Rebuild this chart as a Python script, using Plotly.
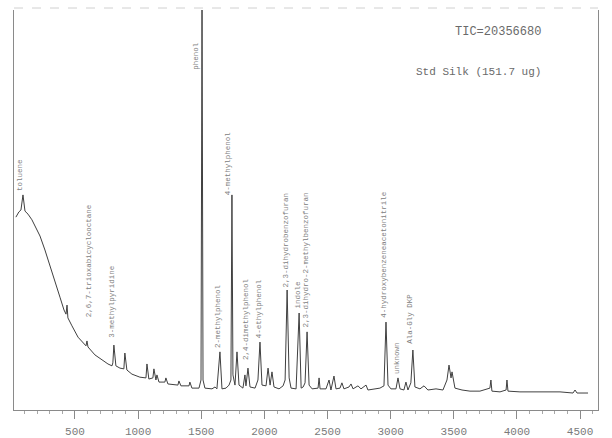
import plotly.graph_objects as go

# Scan number (x) and relative abundance (y) of the total-ion chromatogram
scan = [32, 56, 72, 88, 104, 128, 159, 191, 223, 262, 302, 341, 381, 413, 429, 437, 444, 476, 524,
        587, 595, 603, 658, 714, 761, 793, 800, 808, 824, 856, 887, 895, 911, 951, 1014, 1062, 1070,
        1085, 1117, 1125, 1141, 1149, 1165, 1212, 1220, 1236, 1315, 1323, 1339, 1403, 1410, 1426,
        1482, 1498, 1506, 1514, 1529, 1585, 1609, 1624, 1648, 1664, 1696, 1720, 1735, 1743, 1751,
        1767, 1783, 1799, 1830, 1846, 1854, 1870, 1886, 1926, 1949, 1965, 1981, 2013, 2029, 2045,
        2060, 2076, 2116, 2148, 2164, 2180, 2196, 2211, 2251, 2275, 2291, 2307, 2322, 2338, 2354,
        2378, 2425, 2433, 2441, 2488, 2512, 2527, 2551, 2567, 2599, 2614, 2630, 2670, 2686, 2702,
        2741, 2765, 2805, 2820, 2876, 2915, 2947, 2963, 2979, 3002, 3042, 3058, 3074, 3105, 3121,
        3137, 3160, 3176, 3192, 3232, 3264, 3295, 3359, 3414, 3446, 3462, 3478, 3486, 3509, 3565,
        3628, 3707, 3786, 3794, 3802, 3866, 3914, 3921, 3929, 4024, 4143, 4222, 4341, 4444, 4460,
        4476, 4563]
abundance = [46.1, 47.5, 48.0, 52.0, 47.7, 46.9, 45.4, 43.2, 41.1, 37.4, 33.4, 28.9, 24.9, 21.5, 20.4,
             22.8, 19.4, 17.3, 14.3, 12.0, 13.3, 11.7, 9.6, 8.3, 7.2, 6.7, 7.5, 12.2, 6.7, 6.1, 5.9,
             10.1, 5.6, 4.5, 3.7, 3.5, 7.2, 3.2, 3.5, 5.9, 2.95, 4.3, 2.4, 2.4, 3.5, 1.9, 1.6, 2.7,
             1.4, 1.4, 2.4, 0.8, 0.8, 2.95, 104.0, 2.95, 0.8, 0.6, 1.1, 0.6, 10.4, 0.6, 0.8, 1.6,
             2.95, 52.0, 4.3, 1.6, 10.4, 1.6, 0.8, 4.3, 1.4, 6.1, 1.1, 0.8, 2.95, 13.0, 1.6, 1.4,
             6.1, 1.6, 5.1, 1.1, 0.6, 1.4, 2.95, 26.8, 3.5, 0.8, 0.6, 20.7, 0.8, 1.1, 2.2, 15.7,
             1.6, 0.6, 0.8, 3.5, 0.6, 0.6, 2.95, 0.3, 4.0, 0.6, 0.8, 2.2, 0.6, 1.1, 1.9, 0.6, 1.4,
             0.6, 1.6, 0.3, 0.6, 0.8, 1.4, 18.3, 1.6, 0.6, 0.6, 3.5, 0.6, 0.3, 2.4, 0.3, 2.2, 10.9,
             1.1, 0.6, 1.4, 0.3, 0.6, 0.3, 2.95, 6.9, 3.5, 5.1, 0.8, 0.3, 0.0, 0.0, 0.8, 2.95, 0.0,
             -0.2, 0.3, 2.95, 0.0, -0.2, -0.2, -0.2, -0.2, -0.5, 0.3, -0.5, -0.5]

# Peak identifications: name, scan where the label sits, abundance at the label's foot
peak_names = ["toluene", "2,6,7-trioxabicyclooctane", "3-methylpyridine", "phenol",
              "4-methylphenol", "2-methylphenol", "2,4-dimethylphenol", "4-ethylphenol",
              "2,3-dihydrobenzofuran", "indole", "2,3-dihydro-2-methylbenzofuran",
              "4-hydroxybenzeneacetonitrile", "unknown", "Ala-Gly DKP"]
peak_label_scan = [64, 611, 793, 1458, 1712, 1633, 1854, 1957, 2164, 2266, 2322, 2947, 3050, 3152]
peak_label_y = [52.5, 18.9, 13.6, 84.6, 51.4, 10.9, 7.7, 13.6, 26.8, 21.5, 16.2, 18.9, 4.0, 12.0]

x_ticks = [500, 1000, 1500, 2000, 2500, 3000, 3500, 4000, 4500]

fig = go.Figure()
fig.add_trace(go.Scatter(x=scan, y=abundance, mode="lines",
                         line=dict(color="#404040", width=1), showlegend=False,
                         hoverinfo="x+y"))

for name, sx, sy in zip(peak_names, peak_label_scan, peak_label_y):
    fig.add_annotation(x=sx, y=sy, text=name, textangle=-90, showarrow=False,
                       xanchor="center", yanchor="bottom",
                       font=dict(family="Liberation Mono", size=7.5, color="#808080"))

fig.add_annotation(xref="paper", yref="paper", x=0.905, y=0.945, text="TIC=20356680",
                   showarrow=False, xanchor="right", yanchor="middle",
                   font=dict(family="Liberation Mono", size=12, color="#6a6a6a"))
fig.add_annotation(xref="paper", yref="paper", x=0.905, y=0.845, text="Std Silk (151.7 ug)",
                   showarrow=False, xanchor="right", yanchor="middle",
                   font=dict(family="Liberation Mono", size=11, color="#6a6a6a"))

fig.add_shape(type="line", xref="paper", yref="paper", x0=0, x1=1, y0=1.005, y1=1.005,
              line=dict(color="#d0d0d0", width=1, dash="dash"))

fig.update_layout(
    width=612, height=438,
    margin=dict(l=14, r=14, t=10, b=28),
    paper_bgcolor="white", plot_bgcolor="white",
    xaxis=dict(range=[17, 4642], tickvals=x_ticks, ticktext=[str(v) for v in x_ticks],
               automargin=False,
               showgrid=False, zeroline=False, showline=True, linecolor="#8a8a8a", linewidth=1,
               ticks="outside", ticklen=8, tickcolor="#8a8a8a", ticklabelstandoff=3,
               minor=dict(dtick=100, ticks="outside", ticklen=3, tickcolor="#a8a8a8"),
               tickfont=dict(family="Liberation Mono", size=11, color="#7a7a7a")),
    yaxis=dict(range=[-5, 101], showticklabels=False, showgrid=False, zeroline=False,
               showline=True, linecolor="#8a8a8a", linewidth=1, mirror=True, ticks=""),
)

fig.write_html("out.html")
